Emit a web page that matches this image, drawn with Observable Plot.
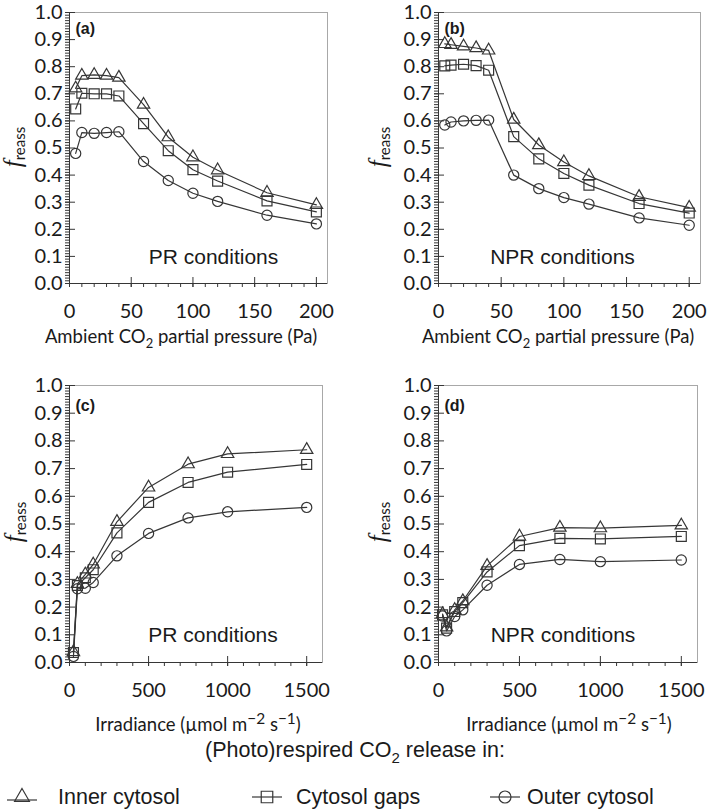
<!DOCTYPE html>
<html><head><meta charset="utf-8">
<script src="https://cdn.jsdelivr.net/npm/d3@7"></script>
<script src="https://cdn.jsdelivr.net/npm/@observablehq/plot@0.6"></script>
<style>
body{margin:0;background:#fff;}
#root{position:relative;width:709px;height:812px;overflow:hidden;background:#fff;color:#1a1a1a;}
.abs{position:absolute;white-space:nowrap;}
.axt{font-family:Lato,sans-serif;font-size:18.5px;transform:translate(-50%,-50%);}
.ylab{transform:translate(-50%,-50%) rotate(-90deg);font-family:Lato,sans-serif;}
.ylab i{font-family:"Liberation Serif",serif;font-size:25px;}
.ylab sub{font-size:15px;vertical-align:-4px;}
.leg{font-family:"Liberation Sans",Arial,sans-serif;font-size:21.5px;transform:translateY(-50%);}
.legt{font-family:"Liberation Sans",Arial,sans-serif;font-size:21.5px;transform:translate(-50%,-50%);}
sub{font-size:70%;}
</style></head><body><div id="root"></div>
<script>
// ---------- data ----------
const seriesNames = ["Inner cytosol", "Cytosol gaps", "Outer cytosol"];
const co2 = [5, 10, 20, 30, 40, 60, 80, 100, 120, 160, 200];
const irr = [25, 50, 100, 150, 300, 500, 750, 1000, 1500];

const aInner = [0.72, 0.767, 0.77, 0.767, 0.76, 0.66, 0.54, 0.466, 0.418, 0.335, 0.29];
const aGaps  = [0.644, 0.702, 0.70, 0.70, 0.692, 0.59, 0.49, 0.42, 0.378, 0.305, 0.264];
const aOuter = [0.48, 0.557, 0.554, 0.557, 0.56, 0.45, 0.38, 0.333, 0.303, 0.252, 0.22];

const bInner = [0.884, 0.881, 0.875, 0.869, 0.86, 0.605, 0.511, 0.448, 0.397, 0.32, 0.28];
const bGaps  = [0.803, 0.806, 0.809, 0.804, 0.787, 0.542, 0.46, 0.406, 0.363, 0.295, 0.26];
const bOuter = [0.585, 0.596, 0.6, 0.602, 0.603, 0.40, 0.35, 0.317, 0.293, 0.242, 0.215];

const cInner = [0.038, 0.284, 0.318, 0.354, 0.508, 0.632, 0.716, 0.753, 0.768];
const cGaps  = [0.036, 0.278, 0.306, 0.335, 0.468, 0.578, 0.65, 0.687, 0.715];
const cOuter = [0.022, 0.266, 0.268, 0.289, 0.385, 0.466, 0.522, 0.544, 0.56];

const dInner = [0.175, 0.127, 0.19, 0.222, 0.349, 0.455, 0.487, 0.485, 0.495];
const dGaps  = [0.172, 0.124, 0.184, 0.216, 0.327, 0.422, 0.448, 0.446, 0.455];
const dOuter = [0.168, 0.114, 0.166, 0.19, 0.279, 0.354, 0.372, 0.364, 0.37];

const yMajor = [0, 0.1, 0.2, 0.3, 0.4, 0.5, 0.6, 0.7, 0.8, 0.9, 1.0];
const yMinor = d3.range(0, 101).map(i => i / 100);
const co2Major = [0, 50, 100, 150, 200];
const co2Minor = d3.range(0, 201, 10);
const irrMajor = [0, 500, 1000, 1500];
const irrMinor = d3.range(0, 1501, 100);

const panelTags = ["(a)", "(b)", "(c)", "(d)"];
const panelNotes = ["PR conditions", "NPR conditions", "PR conditions", "NPR conditions"];
const legendTitle = "(Photo)respired CO<sub>2</sub> release in:";
const co2Title = "Ambient CO<sub>2</sub> partial pressure (Pa)";
const irrTitle = "Irradiance (µmol m<sup>−2</sup> s<sup>−1</sup>)";

// ---------- drawing ----------
const root = document.getElementById("root");
const ink = "#363636";
const symbols = ["triangle", "square", "circle"];
const symR = [4.6, 5.6, 5.1];

function addPanel(cfg) {
  const data = [];
  cfg.ys.forEach((arr, si) => arr.forEach((v, i) => data.push({x: cfg.xs[i], y: v, s: seriesNames[si]})));
  const txt = {fontFamily: "Lato, sans-serif", fontSize: 20, fill: "#1a1a1a", label: null};
  const chart = Plot.plot({
    width: cfg.width, height: cfg.height,
    marginTop: cfg.mt, marginBottom: cfg.height - cfg.mt - cfg.frameH, marginLeft: cfg.ml, marginRight: cfg.mr,
    x: {domain: cfg.xDomain, axis: null},
    y: {domain: [0, 1], axis: null},
    style: {background: "transparent", overflow: "visible"},
    marks: [
      Plot.frame({stroke: "#a8a8a8"}),
      Plot.ruleX([cfg.xDomain[0]], {stroke: ink}),
      Plot.ruleY([0], {stroke: ink}),
      Plot.axisY(yMinor, {anchor: "left", tickSize: 4, stroke: ink, fill: "none", label: null}),
      Plot.axisY(yMajor, {anchor: "left", tickSize: 10, dx: 6, stroke: ink, fill: "none", label: null}),
      Plot.axisY(yMajor, {anchor: "left", tickSize: 0, tickPadding: 7, tickFormat: d3.format(".1f"), ...txt}),
      Plot.axisX(cfg.xMinor, {anchor: "bottom", tickSize: 4, stroke: ink, fill: "none", label: null}),
      Plot.axisX(cfg.xMajor, {anchor: "bottom", tickSize: 10, dy: -6, stroke: ink, fill: "none", label: null}),
      Plot.axisX(cfg.xMajor, {anchor: "bottom", tickSize: 0, tickPadding: 20, tickFormat: d3.format("d"), ...txt}),
      Plot.line(data, {x: "x", y: "y", z: "s", stroke: ink, strokeWidth: 1.2}),
      ...seriesNames.map((name, si) => Plot.dot(data.filter(d => d.s === name),
        {x: "x", y: "y", symbol: symbols[si], r: symR[si], stroke: ink, fill: "none", strokeWidth: 1.2})),
      Plot.text([cfg.tag], {frameAnchor: "top-left", dx: cfg.tagDx, dy: cfg.tagDy, textAnchor: "start",
        fontWeight: "bold", fontFamily: "Liberation Sans, Arial, sans-serif", fontSize: 16, fill: "#1a1a1a"}),
      Plot.text([cfg.note], {frameAnchor: "bottom", dx: cfg.noteDx, dy: cfg.noteDy,
        fontFamily: "Liberation Sans, Arial, sans-serif", fontSize: 21, fill: "#1a1a1a"})
    ]
  });
  const wrap = document.createElement("div");
  wrap.className = "abs";
  wrap.style.left = cfg.left + "px";
  wrap.style.top = cfg.top + "px";
  wrap.appendChild(chart);
  root.appendChild(wrap);
}

function addHtml(cls, html, left, top) {
  const el = document.createElement("div");
  el.className = "abs " + cls;
  el.style.left = left + "px";
  el.style.top = top + "px";
  el.innerHTML = html;
  root.appendChild(el);
  return el;
}

addPanel({xs: co2, ys: [aInner, aGaps, aOuter], xDomain: [0, 209], xMajor: co2Major, xMinor: co2Minor,
  left: 0, top: 0, width: 354, height: 326, mt: 12, frameH: 271, ml: 69, mr: 27,
  tag: panelTags[0], tagDx: 6, tagDy: 10, note: panelNotes[0], noteDx: 15, noteDy: -20});
addPanel({xs: co2, ys: [bInner, bGaps, bOuter], xDomain: [0, 209], xMajor: co2Major, xMinor: co2Minor,
  left: 354, top: 0, width: 355, height: 326, mt: 12, frameH: 271, ml: 84, mr: 9,
  tag: panelTags[1], tagDx: 6, tagDy: 10, note: panelNotes[1], noteDx: -7, noteDy: -20});
addPanel({xs: irr, ys: [cInner, cGaps, cOuter], xDomain: [0, 1600], xMajor: irrMajor, xMinor: irrMinor,
  left: 0, top: 375, width: 354, height: 327, mt: 10, frameH: 277, ml: 69, mr: 32,
  tag: panelTags[2], tagDx: 6, tagDy: 14, note: panelNotes[2], noteDx: 17, noteDy: -21});
addPanel({xs: irr, ys: [dInner, dGaps, dOuter], xDomain: [0, 1600], xMajor: irrMajor, xMinor: irrMinor,
  left: 354, top: 375, width: 355, height: 327, mt: 10, frameH: 277, ml: 84, mr: 12,
  tag: panelTags[3], tagDx: 6, tagDy: 14, note: panelNotes[3], noteDx: -5, noteDy: -21});

// y-axis labels
const ylab = "<i>f</i><sub>reass</sub>";
addHtml("ylab", ylab, 13, 147);
addHtml("ylab", ylab, 378, 147);
addHtml("ylab", ylab, 14, 522);
addHtml("ylab", ylab, 378, 522);

// x-axis titles
addHtml("axt", co2Title, 181, 338);
addHtml("axt", co2Title, 558, 338);
addHtml("axt", irrTitle, 198, 722);
addHtml("axt", irrTitle, 569, 722);

// legend
addHtml("legt", legendTitle, 355, 752);
const legMarkX = [22, 267, 505];
const legTextX = [58, 296, 527];
seriesNames.forEach((name, si) => {
  const svg = d3.create("svg").attr("width", 36).attr("height", 24)
    .style("position", "absolute").style("left", (legMarkX[si] - 18) + "px").style("top", (797 - 12) + "px");
  const g = svg.append("g").attr("transform", "translate(18,12)").attr("stroke", ink).attr("fill", "none").attr("stroke-width", 1.2);
  g.append("line").attr("x1", -15).attr("x2", 15).attr("y1", si === 0 ? 3 : 0).attr("y2", si === 0 ? 3 : 0);
  const sym = [d3.symbolTriangle, d3.symbolSquare, d3.symbolCircle][si];
  const rr = [5.5, 6.5, 6][si];
  g.append("path").attr("d", d3.symbol(sym, Math.PI * rr * rr)());
  root.appendChild(svg.node());
  addHtml("leg", name, legTextX[si], 797);
});
</script></body></html>
